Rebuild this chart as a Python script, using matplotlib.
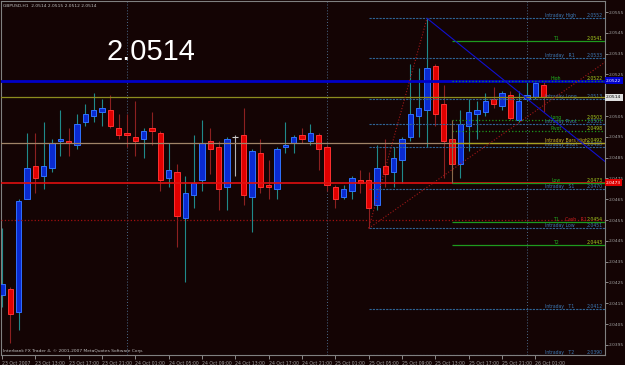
import numpy as np
import matplotlib
matplotlib.use("Agg")
import matplotlib.pyplot as plt
import matplotlib.transforms as mtransforms

# GBPUSD H1, bars from 23 Oct 2007 09:00
opens = [2.0419, 2.0422, 2.0411, 2.0465, 2.0481, 2.0476, 2.0480, 2.0493, 2.0493, 2.0491,
         2.0502, 2.0505, 2.0507, 2.0508, 2.0499, 2.0497, 2.0495, 2.0494, 2.0499, 2.0497,
         2.0475, 2.0478, 2.0456, 2.0467, 2.0474, 2.0493, 2.0490, 2.0471, 2.0495, 2.0496,
         2.0466, 2.0487, 2.0472, 2.0470, 2.0490, 2.0492, 2.0496, 2.0493, 2.0496, 2.0490,
         2.0471, 2.0466, 2.0469, 2.0474, 2.0474, 2.0462, 2.0481, 2.0478, 2.0484, 2.0495,
         2.0505, 2.0508, 2.0529, 2.0511, 2.0494, 2.0482, 2.0500, 2.0506, 2.0507, 2.0513,
         2.0510, 2.0515, 2.0503, 2.0513, 2.0514, 2.0520]
highs = [2.0451, 2.0423, 2.0465, 2.0497, 2.0497, 2.0502, 2.0494, 2.0508, 2.0499, 2.0506,
         2.0511, 2.0516, 2.0513, 2.0515, 2.0506, 2.0506, 2.0512, 2.0499, 2.0507, 2.0498,
         2.0492, 2.0482, 2.0476, 2.0496, 2.0503, 2.0499, 2.0493, 2.0495, 2.0496, 2.0509,
         2.0489, 2.0494, 2.0484, 2.0490, 2.0502, 2.0496, 2.0499, 2.0501, 2.0497, 2.0491,
         2.0472, 2.0472, 2.0476, 2.0479, 2.0478, 2.0491, 2.0494, 2.0490, 2.0495, 2.0530,
         2.0528, 2.0552, 2.0530, 2.0520, 2.0498, 2.0508, 2.0513, 2.0512, 2.0516, 2.0519,
         2.0517, 2.0517, 2.0517, 2.0522, 2.0522, 2.0522]
lows = [2.0413, 2.0396, 2.0402, 2.0465, 2.0468, 2.0470, 2.0478, 2.0486, 2.0486, 2.0489,
        2.0500, 2.0502, 2.0500, 2.0499, 2.0494, 2.0490, 2.0486, 2.0485, 2.0491, 2.0469,
        2.0471, 2.0442, 2.0425, 2.0461, 2.0469, 2.0477, 2.0460, 2.0460, 2.0476, 2.0462,
        2.0449, 2.0468, 2.0465, 2.0465, 2.0487, 2.0487, 2.0492, 2.0491, 2.0479, 2.0469,
        2.0461, 2.0465, 2.0465, 2.0468, 2.0451, 2.0460, 2.0471, 2.0471, 2.0473, 2.0493,
        2.0495, 2.0490, 2.0500, 2.0475, 2.0477, 2.0475, 2.0488, 2.0494, 2.0505, 2.0509,
        2.0508, 2.0503, 2.0502, 2.0512, 2.0513, 2.0507]
closes = [2.0424, 2.0410, 2.0464, 2.0480, 2.0475, 2.0481, 2.0492, 2.0494, 2.0492, 2.0501,
          2.0506, 2.0508, 2.0509, 2.0500, 2.0496, 2.0496, 2.0493, 2.0498, 2.0498, 2.0474,
          2.0479, 2.0457, 2.0468, 2.0473, 2.0492, 2.0489, 2.0470, 2.0494, 2.0495, 2.0467,
          2.0488, 2.0471, 2.0471, 2.0489, 2.0491, 2.0495, 2.0494, 2.0497, 2.0489, 2.0472,
          2.0465, 2.0470, 2.0475, 2.0473, 2.0461, 2.0480, 2.0477, 2.0485, 2.0494, 2.0506,
          2.0509, 2.0528, 2.0506, 2.0493, 2.0482, 2.0501, 2.0507, 2.0508, 2.0512, 2.0511,
          2.0516, 2.0504, 2.0512, 2.0515, 2.0521, 2.0514]

time_ticks = [0, 4, 8, 12, 16, 20, 24, 28, 32, 36, 40, 44, 48, 52, 56, 60, 64]
time_labels = ["23 Oct 2007", "23 Oct 13:00", "23 Oct 17:00", "23 Oct 21:00",
               "24 Oct 01:00", "24 Oct 05:00", "24 Oct 09:00", "24 Oct 13:00",
               "24 Oct 17:00", "24 Oct 21:00", "25 Oct 01:00", "25 Oct 05:00",
               "25 Oct 09:00", "25 Oct 13:00", "25 Oct 17:00", "25 Oct 21:00",
               "26 Oct 01:00"]
day_starts = [15, 39, 63]

price_ticks = [2.0395, 2.0405, 2.0415, 2.0425, 2.0435, 2.0445, 2.0455, 2.0465, 2.0475,
               2.0485, 2.0495, 2.0505, 2.0515, 2.0525, 2.0535, 2.0545, 2.0555]

# horizontal lines across whole chart
full_prices = [2.0522, 2.0514, 2.0492, 2.0473, 2.0455]
full_colors = ["#0000c8", "#8c8c1e", "#a08468", "#e01010", "#a01010"]
full_styles = ["-", "-", "-", "-", ":"]
full_widths = [2.0, 0.9, 0.9, 1.2, 0.9]

# intraday levels (start at the intraday low bar)
intra_start = 44
intra_names = ["Intraday High", "Intraday   R1", "Intraday Long", "Intraday Pivot",
               "Intraday Short", "Intraday   S1", "Intraday Low", "Intraday   T1",
               "Intraday   T2"]
intra_prices = [2.0552, 2.0533, 2.0513, 2.0501, 2.0490, 2.0470, 2.0451, 2.0412, 2.0390]

# daily pivot levels
piv_start = 54
piv_names = ["T1", "High", "Long", "Pivot", "Intraday Bars High", "Low", "T1", "T2"]
piv_prices = [2.0541, 2.0522, 2.0503, 2.0498, 2.0492, 2.0473, 2.0454, 2.0443]
piv_styles = ["-", ":", ":", ":", "-", "-", "-", "-"]

# trend lines (bar, price) pairs
blue_trend = [(51, 2.0552), (72.4, 2.0483)]
red_trend_a = [(44, 2.0451), (51, 2.0552)]
red_trend_b = [(44, 2.0451), (72.4, 2.0531)]

bg = "#140404"
W, H = 625, 365
fig = plt.figure(figsize=(W / 100, H / 100), dpi=100, facecolor=bg)
ax = fig.add_axes([1 / W, 10 / H, 604 / W, 354 / H], facecolor=bg)

o = np.array(opens)
h = np.array(highs)
l = np.array(lows)
c = np.array(closes)
x = np.arange(len(o))
up = c > o
dn = c < o
fl = c == o

# wicks
ax.vlines(x[up], l[up], h[up], color="#1f8a8a", lw=0.8, zorder=2)
ax.vlines(x[dn], l[dn], h[dn], color="#8c2020", lw=0.8, zorder=2)
ax.vlines(x[fl], l[fl], h[fl], color="#b0b0b0", lw=0.8, zorder=2)
# bodies
ax.bar(x[up], c[up] - o[up], bottom=o[up], width=0.66, color="#0a2ad0",
       edgecolor="#3070ff", lw=0.7, zorder=3)
ax.bar(x[dn], o[dn] - c[dn], bottom=c[dn], width=0.66, color="#e00000",
       edgecolor="#ff3030", lw=0.7, zorder=3)
ax.hlines(c[fl], x[fl] - 0.35, x[fl] + 0.35, color="#d0d0d0", lw=0.8, zorder=3)

xmin, xmax = -0.12, 72.36
ymin, ymax = 2.03901, 2.05603
ax.set_xlim(xmin, xmax)
ax.set_ylim(ymin, ymax)

for d in day_starts:
    ax.axvline(d, color="#4a6a8a", ls=(0, (1, 2)), lw=0.7, zorder=1)

for p, col, ls, lw in zip(full_prices, full_colors, full_styles, full_widths):
    ax.axhline(p, color=col, ls=ls, lw=lw, zorder=4)

blend = mtransforms.blended_transform_factory(fig.transFigure, ax.transData)
fs = 3.3

for name, p in zip(intra_names, intra_prices):
    ax.hlines(p, intra_start, xmax, color="#2e6496", ls=(0, (2, 1)), lw=0.8, zorder=4)
    ax.text(545 / W, p, name, transform=blend, color="#3c78b4", fontsize=fs,
            ha="left", va="bottom")
    ax.text(603 / W, p, "%.4f" % p, transform=blend, color="#3c78b4", fontsize=fs,
            ha="right", va="bottom")

for name, p, ls in zip(piv_names, piv_prices, piv_styles):
    col = "#a8a020" if name == "Intraday Bars High" else "#1e9a1e"
    ax.hlines(p, piv_start, xmax, color=col, ls=ls, lw=0.9, zorder=4)
    if name == "Intraday Bars High":
        ax.text(545 / W, p, name, transform=blend, color="#c8b428", fontsize=fs,
                ha="left", va="bottom")
    else:
        ax.text(556 / W, p, name, transform=blend, color="#20b020", fontsize=fs,
                ha="center", va="bottom")
    ax.text(603 / W, p, "%.4f" % p, transform=blend, color="#a8d020", fontsize=fs,
            ha="right", va="bottom")
ax.text(576 / W, piv_prices[6], "Cash   R1", transform=blend, color="#d02020",
        fontsize=fs, ha="center", va="bottom")

# connector at the pivot block
ax.vlines(piv_start, piv_prices[5], piv_prices[2], color="#8a6a4a", lw=0.8, zorder=4)

for line, col, ls in [(blue_trend, "#1010d0", "-"), (red_trend_a, "#a01818", ":"),
                      (red_trend_b, "#a01818", ":")]:
    ax.plot([line[0][0], line[1][0]], [line[0][1], line[1][1]], color=col, ls=ls,
            lw=0.8, zorder=4)

# axes style
for s in ax.spines.values():
    s.set_color("#808080")
    s.set_linewidth(0.8)
ax.yaxis.tick_right()
ax.set_yticks(price_ticks)
ax.set_yticklabels(["%.4f" % p for p in price_ticks])
ax.tick_params(axis="y", length=2, width=0.6, colors="#a0a0a0", labelsize=3.2, pad=1)
ax.set_xticks(time_ticks)
ax.set_xticklabels(time_labels, ha="left")
ax.tick_params(axis="x", length=3, width=0.6, colors="#a0a0a0", labelsize=3.3, pad=1.5)

# price boxes on the scale
for p, fc, tc in [(2.0522, "#0000d0", "white"), (2.0514, "#e0e0e0", "black"),
                  (2.0473, "#e00000", "white")]:
    ax.text(606 / W, p, "%.4f" % p, transform=blend, color=tc, fontsize=3.2,
            ha="left", va="center", clip_on=False, zorder=6,
            bbox=dict(boxstyle="square,pad=0.3", fc=fc, ec="none"))

fig.text(3 / W, 1 - 6 / H, "GBPUSD,H1  2.0514 2.0515 2.0512 2.0514", color="#c0c0c0",
         fontsize=3.2, ha="left", va="center")
fig.text(107 / W, 1 - 60 / H, "2.0514", color="white", fontsize=21,
         family="Liberation Sans", ha="left", va="baseline")
fig.text(3 / W, 1 - 353 / H, "Interbank FX Trader 4, \u00a9 2001-2007 MetaQuotes Software Corp.",
         color="#c0c0c0", fontsize=3.2, ha="left", va="bottom")

fig.savefig("out.png", dpi=100, facecolor=bg)
